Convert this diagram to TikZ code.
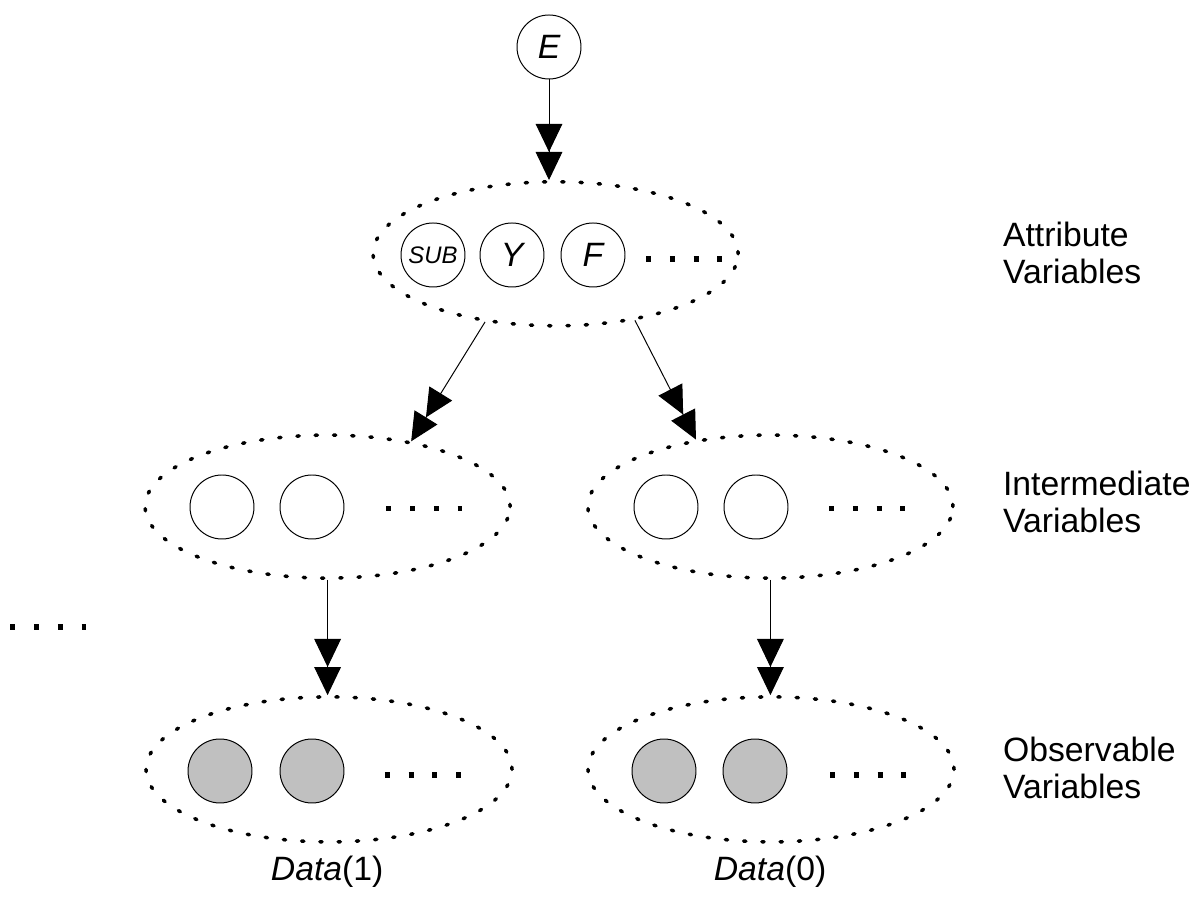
\documentclass[tikz,border=0pt]{standalone}
\usepackage{fontspec}
\setmainfont{Liberation Sans}
\usetikzlibrary{arrows.meta,shapes.geometric}
\definecolor{BnGray}{RGB}{192,192,192}
\tikzset{
  bn/var/.style={
    circle,
    draw=black,
    line width=0.7pt,
    fill=white,
    minimum size=1.6cm,
    inner sep=0pt,
    font=\fontsize{24}{28}\selectfont\itshape
  },
  bn/obs/.style={bn/var, fill=BnGray},
  bn/group/.style={
    ellipse,
    draw=black,
    line width=2.5pt,
    line cap=round,
    dash pattern=on 1.6pt off 11.4pt,
    minimum width=9.125cm,
    minimum height=3.6cm,
    inner sep=0pt
  },
  bn/arrow/.style={-{Triangle[length=20pt,width=19pt,sep=0pt]Triangle[length=20pt,width=19pt]}, line width=0.7pt},
  bn/dots/.style={line width=3.6pt, dash pattern=on 3.6pt off 13.3pt},
  bn/label/.style={font=\fontsize{24}{26.3}\selectfont, align=left, anchor=west, inner sep=0pt},
  bn/caption/.style={font=\fontsize{24}{28}\selectfont, inner sep=0pt}
}

\begin{document}
\begin{tikzpicture}[x=1cm,y=1cm]
  \useasboundingbox (0,0) rectangle (29.95,22.425);
  % evidence and attribute level
  \node[bn/var] (E) at (13.725,21.25) {E};
  \node[bn/group] (attr) at (13.89,16.08) {};
  \node[bn/var,font=\fontsize{17}{19}\selectfont\itshape] (sub) at (10.825,16.05) {SUB};
  \node[bn/var] (Y) at (12.8,16.05) {Y};
  \node[bn/var] (F) at (14.825,16.05) {F};
  \draw[bn/dots] (16.15,15.95) -- ++(1.9,0);

  % intermediate level
  \node[bn/group,minimum height=3.575cm] (intL) at (8.19,9.76) {};
  \node[bn/group,minimum height=3.575cm] (intR) at (19.26,9.76) {};
  \node[bn/var] (intL1) at (5.55,9.75) {};
  \node[bn/var] (intL2) at (7.8,9.75) {};
  \node[bn/var] (intR1) at (16.65,9.75) {};
  \node[bn/var] (intR2) at (18.9,9.75) {};
  \draw[bn/dots] (9.66,9.72) -- ++(1.9,0);
  \draw[bn/dots] (20.73,9.72) -- ++(1.9,0);
  \draw[bn/dots] (0.26,6.75) -- ++(1.9,0);

  % observable level
  \node[bn/group,minimum width=9.15cm,minimum height=3.625cm] (obsL) at (8.225,3.19) {};
  \node[bn/group,minimum width=9.15cm,minimum height=3.625cm] (obsR) at (19.275,3.19) {};
  \node[bn/obs] (obsL1) at (5.5,3.15) {};
  \node[bn/obs] (obsL2) at (7.8,3.15) {};
  \node[bn/obs] (obsR1) at (16.6,3.15) {};
  \node[bn/obs] (obsR2) at (18.875,3.15) {};
  \draw[bn/dots] (9.62,3.05) -- ++(1.9,0);
  \draw[bn/dots] (20.75,3.05) -- ++(1.9,0);

  % arrows
  \draw[bn/arrow] (E) -- (E |- attr.north);
  \draw[bn/arrow] (attr.224) -- (intL.38);
  \draw[bn/arrow] (attr.320) -- (intR.138);
  \draw[bn/arrow] (intL.south) -- (intL.south |- obsL.north);
  \draw[bn/arrow] (intR.south) -- (intR.south |- obsR.north);

  % labels
  \node[bn/label] (labAttr) at (25.07,16.1) {Attribute\\Variables};
  \node[bn/label] (labInt) at (25.07,9.87) {Intermediate\\Variables};
  \node[bn/label] (labObs) at (25.07,3.22) {Observable\\Variables};
  \node[bn/caption] (data1) at (8.18,0.62) {\textit{Data}(1)};
  \node[bn/caption] (data0) at (19.25,0.62) {\textit{Data}(0)};
\end{tikzpicture}
\end{document}
